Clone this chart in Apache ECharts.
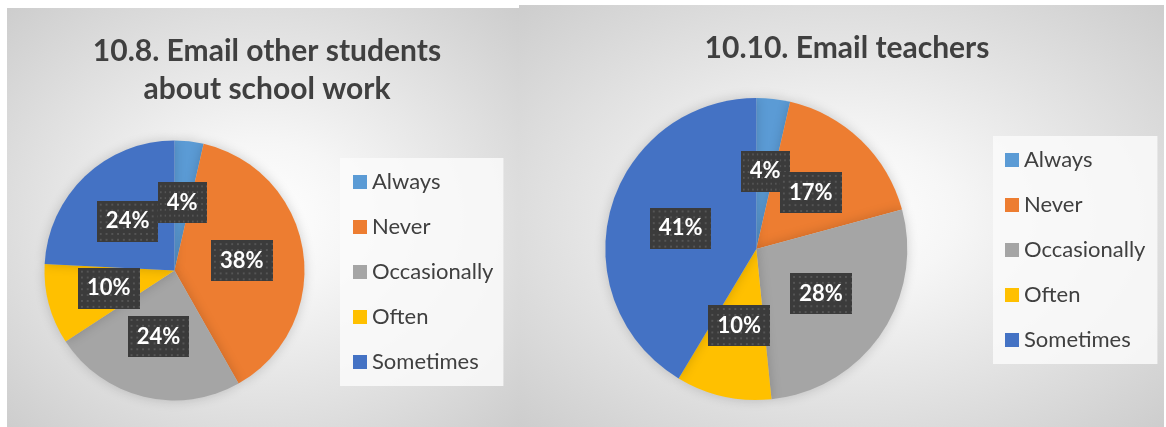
<!DOCTYPE html>
<html>
<head>
<meta charset="utf-8">
<script src="https://cdn.jsdelivr.net/npm/echarts@6/dist/echarts.min.js"></script>
<style>
  html, body { margin: 0; padding: 0; background: #fff; }
  .wrapper { position: relative; width: 1166px; height: 427px; overflow: hidden; }
  .panel {
    position: absolute;
    background: radial-gradient(ellipse at 50% 50%, #ffffff 0%, #f6f6f6 25%, #cdcdcd 100%);
  }
  #students_show { left: 7px; top: 8px; width: 512px; height: 419px; }
  #teachers_show { left: 519px; top: 5px; width: 645px; height: 422px; }
</style>
</head>
<body>
<div class="wrapper">
  <div class="panel" id="students_show"></div>
  <div class="panel" id="teachers_show"></div>
</div>
<script>
const categories = ['Always', 'Never', 'Occasionally', 'Often', 'Sometimes']
const colors = ['#5B9BD5', '#ED7D31', '#A5A5A5', '#FFC000', '#4472C4']
const studentsValues = [3.6, 38.2, 24.0, 10.0, 24.2]
const teachersValues = [3.6, 17.2, 27.6, 10.2, 41.4]

// dotted dark fill for the data labels
function makeDots () {
  var c = document.createElement('canvas')
  c.width = 64
  c.height = 42
  var ctx = c.getContext('2d')
  ctx.fillStyle = '#3b3b3b'
  ctx.fillRect(0, 0, 64, 42)
  ctx.fillStyle = '#555555'
  for (var y = 3; y < 42; y += 6) {
    for (var x = 3; x < 64; x += 6) {
      ctx.fillRect(x, y, 2, 2)
    }
  }
  return c
}
const dots = makeDots()

function buildOption (title, values, center, radius, titleX, legendLeft, legendTop, legendPad) {
  return {
    animation: false,
    color: colors,
    title: {
      text: title,
      left: titleX,
      textAlign: 'center',
      top: 19,
      textStyle: {
        fontFamily: 'Lato',
        fontWeight: 'bold',
        fontSize: 30,
        lineHeight: 38,
        color: '#404040'
      }
    },
    legend: {
      orient: 'vertical',
      left: legendLeft,
      top: legendTop,
      padding: legendPad,
      backgroundColor: 'rgba(250,250,250,0.85)',
      itemWidth: 14,
      itemHeight: 14,
      itemGap: 23,
      icon: 'rect',
      selectedMode: false,
      textStyle: {
        fontFamily: 'Lato',
        fontSize: 22,
        lineHeight: 20,
        color: '#404040'
      },
      data: categories
    },
    series: [
      {
        type: 'pie',
        center: center,
        radius: radius,
        startAngle: 90,
        clockwise: true,
        avoidLabelOverlap: false,
        labelLayout: { hideOverlap: false },
        itemStyle: {
          borderWidth: 0,
          shadowBlur: 12,
          shadowColor: 'rgba(0,0,0,0.18)'
        },
        label: {
          show: true,
          position: 'inside',
          formatter: function (p) { return Math.round(p.value) + '%' },
          fontFamily: 'Lato',
          fontWeight: 'bold',
          fontSize: 22,
          lineHeight: 22,
          color: '#ffffff',
          backgroundColor: { image: dots },
          padding: [10, 9, 9, 9],
          shadowColor: 'rgba(0,0,0,0.45)',
          shadowBlur: 5,
          shadowOffsetX: 3,
          shadowOffsetY: 3
        },
        labelLine: { show: false },
        emphasis: { disabled: true },
        data: categories.map(function (name, i) {
          return { name: name, value: values[i] }
        })
      }
    ]
  }
}

var chart1 = echarts.init(document.getElementById('students_show'))
chart1.setOption(buildOption('10.8. Email other students\nabout school work',
  studentsValues, [167.5, 262.5], 130, 255, 333, 150, [13, 10, 13, 13]))

var chart2 = echarts.init(document.getElementById('teachers_show'))
chart2.setOption(buildOption('10.10. Email teachers',
  teachersValues, [237.3, 244], 151, 323, 474, 131, [13, 12, 13, 12]))
</script>
</body>
</html>
